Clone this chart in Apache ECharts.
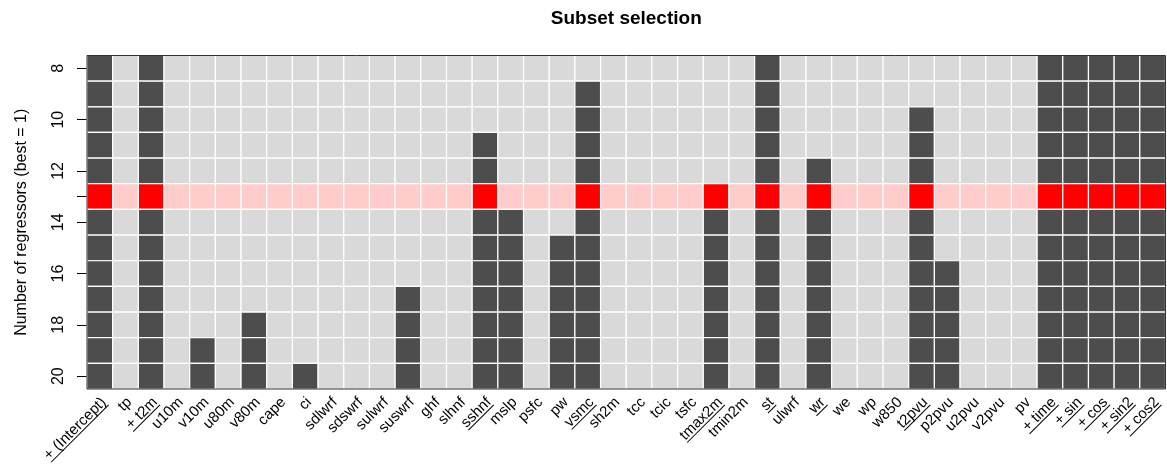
<!DOCTYPE html>
<html>
<head>
<meta charset="utf-8">
<title>Subset selection</title>
<script src="https://cdn.jsdelivr.net/npm/echarts@6/dist/echarts.min.js"></script>
<style>
  html, body { margin: 0; padding: 0; background: #fff; }
  #chart { width: 1167px; height: 467px; }
</style>
</head>
<body>
<div id="chart"></div>
<script>
// Candidate regressors (columns); "+ " marks terms forced into every subset
const regressors = ['+ (Intercept)', 'tp', '+ t2m', 'u10m', 'v10m', 'u80m', 'v80m', 'cape', 'ci',
  'sdlwrf', 'sdswrf', 'sulwrf', 'suswrf', 'ghf', 'slhnf', 'sshnf', 'mslp', 'psfc', 'pw', 'vsmc',
  'sh2m', 'tcc', 'tcic', 'tsfc', 'tmax2m', 'tmin2m', 'st', 'ulwrf', 'wr', 'we', 'wp', 'w850',
  't2pvu', 'p2pvu', 'u2pvu', 'v2pvu', 'pv', '+ time', '+ sin', '+ cos', '+ sin2', '+ cos2'];

// Subset sizes shown on the vertical axis
const subsetSizes = [8, 9, 10, 11, 12, 13, 14, 15, 16, 17, 18, 19, 20];

// Smallest subset size in which each regressor is selected (null = never selected)
const entrySize = [8, null, 8, null, 19, null, 18, null, 20,
  null, null, null, 17, null, null, 11, 14, null, 15, 9,
  null, null, null, null, 13, null, 8, null, 12, null, null, null,
  10, 16, null, null, null, 8, 8, 8, 8, 8];

// Subset size chosen as best
const bestSize = 13;

// Size ticks drawn on the axis, and the ones that carry a label
const tickSizes = [8, 10, 12, 13, 14, 16, 18, 20];
const labelSizes = [8, 10, 12, 14, 16, 18, 20];

const COLORS = ['#d9d9d9', '#4d4d4d', '#ffcccc', '#ff0000'];
const FONT_FAMILY = '"Liberation Sans", Arial, Helvetica, sans-serif';
const AXIS_SIZE = 16;
const LABEL_SIZE = 15;
const TITLE_SIZE = 19;

const GRID = { left: 87, right: 1.5, top: 55.5, bottom: 78 };

// cells: [column, row, state]  state 0 = out, 1 = in, 2 = out (best), 3 = in (best)
const cells = [];
regressors.forEach((name, i) => {
  subsetSizes.forEach((s, j) => {
    const inModel = entrySize[i] !== null && entrySize[i] <= s;
    const state = (inModel ? 1 : 0) + (s === bestSize ? 2 : 0);
    cells.push([i, j, state]);
  });
});

// text measurement for underlines and for centring the title over the plot
const measureCtx = document.createElement('canvas').getContext('2d');
function textWidth(text, font) {
  measureCtx.font = font;
  return measureCtx.measureText(text).width;
}

// column labels, underlined when the regressor is part of the best subset
const labelItems = regressors.map((name, i) => [i, subsetSizes.length - 1,
  (entrySize[i] !== null && entrySize[i] <= bestSize) ? 1 : 0]);

const titleText = 'Subset selection';
const titleFont = 'bold ' + TITLE_SIZE + 'px ' + FONT_FAMILY;
const plotCenterX = (GRID.left + (1167 - GRID.right)) / 2;

const chart = echarts.init(document.getElementById('chart'), null, { renderer: 'canvas' });

chart.setOption({
  animation: false,
  backgroundColor: '#ffffff',
  title: {
    text: titleText,
    left: plotCenterX - textWidth(titleText, titleFont) / 2 - 5,
    top: 4,
    textStyle: { fontFamily: FONT_FAMILY, fontSize: TITLE_SIZE, fontWeight: 'bold', color: '#000' }
  },
  grid: Object.assign({
    show: true, borderColor: '#333', borderWidth: 1, backgroundColor: 'transparent', z: 10
  }, GRID),
  xAxis: {
    type: 'category',
    data: regressors,
    axisLine: { show: false },
    axisTick: { show: false },
    axisLabel: { show: false },
    splitLine: { show: false }
  },
  yAxis: {
    type: 'category',
    data: subsetSizes.map(String),
    inverse: true,
    name: 'Number of regressors (best = 1)',
    nameLocation: 'middle',
    nameRotate: 90,
    nameGap: 57,
    nameTextStyle: { fontFamily: FONT_FAMILY, fontSize: AXIS_SIZE, color: '#000' },
    axisLine: { show: false },
    axisTick: {
      show: true, alignWithLabel: true, length: 10,
      interval: (idx, val) => tickSizes.includes(Number(val)),
      lineStyle: { color: '#000', width: 1 }
    },
    axisLabel: {
      show: true, rotate: 90, margin: 20,
      interval: (idx, val) => labelSizes.includes(Number(val)),
      fontFamily: FONT_FAMILY, fontSize: AXIS_SIZE, color: '#000'
    },
    splitLine: { show: false }
  },
  series: [
    {
      type: 'custom',
      name: 'selection',
      data: cells,
      renderItem: (params, api) => {
        const c = api.coord([api.value(0), api.value(1)]);
        const sz = api.size([1, 1]);
        return {
          type: 'rect',
          shape: { x: c[0] - sz[0] / 2, y: c[1] - sz[1] / 2, width: sz[0], height: sz[1] },
          style: { fill: COLORS[api.value(2)], stroke: '#ffffff', lineWidth: 1.2 }
        };
      }
    },
    {
      type: 'custom',
      name: 'labels',
      data: labelItems,
      clip: false,
      silent: true,
      renderItem: (params, api) => {
        const i = api.value(0);
        const c = api.coord([i, api.value(1)]);
        const sz = api.size([1, 1]);
        const text = regressors[i];
        const font = LABEL_SIZE + 'px ' + FONT_FAMILY;
        const w = textWidth(text, font);
        const children = [{
          type: 'text',
          style: {
            text: text, x: 0, y: 0, align: 'right', verticalAlign: 'middle',
            font: font, fill: '#000'
          }
        }];
        if (api.value(2) === 1) {
          const uy = LABEL_SIZE * 0.45;
          children.push({
            type: 'line',
            shape: { x1: -w, y1: uy, x2: 0, y2: uy },
            style: { stroke: '#000', lineWidth: 1 }
          });
        }
        return {
          type: 'group',
          x: c[0] + 4,
          y: c[1] + sz[1] / 2 + 11,
          rotation: Math.PI / 4,
          children: children
        };
      }
    }
  ]
});
</script>
</body>
</html>
